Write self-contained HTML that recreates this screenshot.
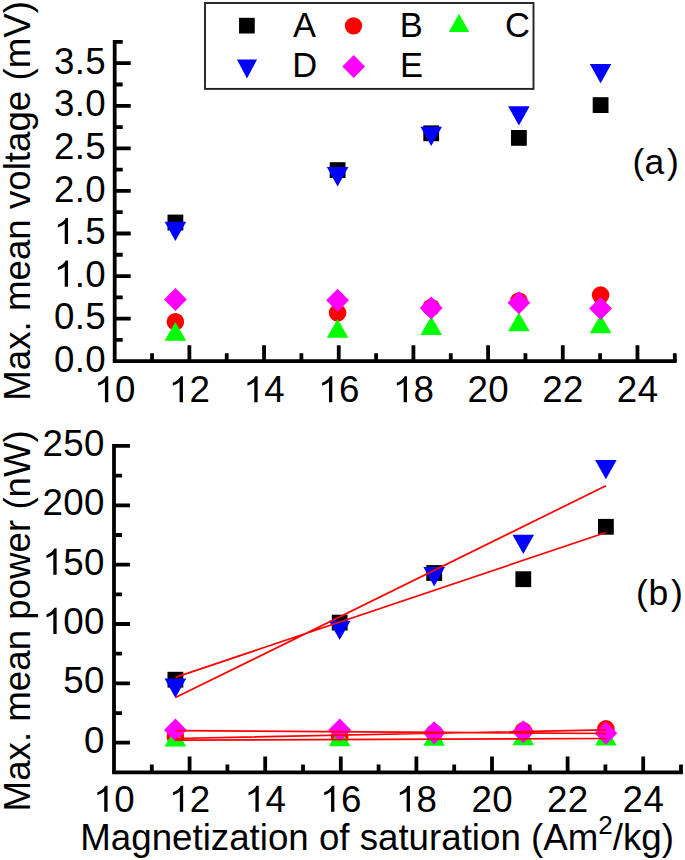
<!DOCTYPE html>
<html><head><meta charset="utf-8"><style>
html,body{margin:0;padding:0;background:#fff;}
svg{display:block;}
text{font-family:"Liberation Sans",sans-serif;fill:#000;}
</style></head><body>
<svg width="685" height="860" viewBox="0 0 685 860">
<rect width="685" height="860" fill="#fff"/>
<path d="M114.7 40.03V361.2" stroke="#000" stroke-width="3.8" fill="none"/>
<path d="M112.8 361.2H676.7" stroke="#000" stroke-width="3.8" fill="none"/>
<path d="M152.04 361.2v-8 M189.38 361.2v-16 M226.72 361.2v-8 M264.06 361.2v-16 M301.4 361.2v-8 M338.74 361.2v-16 M376.08 361.2v-8 M413.42 361.2v-16 M450.76 361.2v-8 M488.1 361.2v-16 M525.44 361.2v-8 M562.78 361.2v-16 M600.12 361.2v-8 M637.46 361.2v-16 M674.8 361.2v-8 M114.7 339.91h8 M114.7 318.63h16 M114.7 297.34h8 M114.7 276.06h16 M114.7 254.77h8 M114.7 233.49h16 M114.7 212.2h8 M114.7 190.92h16 M114.7 169.63h8 M114.7 148.35h16 M114.7 127.06h8 M114.7 105.78h16 M114.7 84.5h8 M114.7 63.21h16 M114.7 41.93h8" stroke="#000" stroke-width="3.8" fill="none"/>
<text x="94.09 114.9" y="402.3" style="font-size:36.7px"> 0</text>
<path transform="translate(94.09 402.3) scale(0.017920 -0.017920)" d="M790 0H605V1130C500 1030 340 960 223 930V1085C400 1150 580 1290 660 1460H790Z"/>
<text x="168.77 189.58" y="402.3" style="font-size:36.7px"> 2</text>
<path transform="translate(168.77 402.3) scale(0.017920 -0.017920)" d="M790 0H605V1130C500 1030 340 960 223 930V1085C400 1150 580 1290 660 1460H790Z"/>
<text x="243.45 264.26" y="402.3" style="font-size:36.7px"> 4</text>
<path transform="translate(243.45 402.3) scale(0.017920 -0.017920)" d="M790 0H605V1130C500 1030 340 960 223 930V1085C400 1150 580 1290 660 1460H790Z"/>
<text x="318.13 338.94" y="402.3" style="font-size:36.7px"> 6</text>
<path transform="translate(318.13 402.3) scale(0.017920 -0.017920)" d="M790 0H605V1130C500 1030 340 960 223 930V1085C400 1150 580 1290 660 1460H790Z"/>
<text x="392.81 413.62" y="402.3" style="font-size:36.7px"> 8</text>
<path transform="translate(392.81 402.3) scale(0.017920 -0.017920)" d="M790 0H605V1130C500 1030 340 960 223 930V1085C400 1150 580 1290 660 1460H790Z"/>
<text x="467.49 488.3" y="402.3" style="font-size:36.7px">20</text>
<text x="542.17 562.98" y="402.3" style="font-size:36.7px">22</text>
<text x="616.85 637.66" y="402.3" style="font-size:36.7px">24</text>
<text x="53.88 74.69 85.29" y="371.8" style="font-size:36.7px">0.0</text>
<text x="53.88 74.69 85.29" y="329.23" style="font-size:36.7px">0.5</text>
<text x="53.88 74.69 85.29" y="286.66" style="font-size:36.7px"> .0</text>
<path transform="translate(53.88 286.66) scale(0.017920 -0.017920)" d="M790 0H605V1130C500 1030 340 960 223 930V1085C400 1150 580 1290 660 1460H790Z"/>
<text x="53.88 74.69 85.29" y="244.09" style="font-size:36.7px"> .5</text>
<path transform="translate(53.88 244.09) scale(0.017920 -0.017920)" d="M790 0H605V1130C500 1030 340 960 223 930V1085C400 1150 580 1290 660 1460H790Z"/>
<text x="53.88 74.69 85.29" y="201.52" style="font-size:36.7px">2.0</text>
<text x="53.88 74.69 85.29" y="158.95" style="font-size:36.7px">2.5</text>
<text x="53.88 74.69 85.29" y="116.38" style="font-size:36.7px">3.0</text>
<text x="53.88 74.69 85.29" y="73.81" style="font-size:36.7px">3.5</text>
<path d="M114 444.05V772.38" stroke="#000" stroke-width="3.8" fill="none"/>
<path d="M112.1 772.38H682.9" stroke="#000" stroke-width="3.8" fill="none"/>
<path d="M151.8 772.38v-8 M189.6 772.38v-16 M227.4 772.38v-8 M265.2 772.38v-16 M303 772.38v-8 M340.8 772.38v-16 M378.6 772.38v-8 M416.4 772.38v-16 M454.2 772.38v-8 M492 772.38v-16 M529.8 772.38v-8 M567.6 772.38v-16 M605.4 772.38v-8 M643.2 772.38v-16 M681 772.38v-8 M114 742.7h16 M114 713.03h8 M114 683.35h16 M114 653.68h8 M114 624h16 M114 594.33h8 M114 564.65h16 M114 534.98h8 M114 505.3h16 M114 475.63h8 M114 445.95h16" stroke="#000" stroke-width="3.8" fill="none"/>
<text x="93.39 114.2" y="811.8" style="font-size:36.7px"> 0</text>
<path transform="translate(93.39 811.8) scale(0.017920 -0.017920)" d="M790 0H605V1130C500 1030 340 960 223 930V1085C400 1150 580 1290 660 1460H790Z"/>
<text x="168.99 189.8" y="811.8" style="font-size:36.7px"> 2</text>
<path transform="translate(168.99 811.8) scale(0.017920 -0.017920)" d="M790 0H605V1130C500 1030 340 960 223 930V1085C400 1150 580 1290 660 1460H790Z"/>
<text x="244.59 265.4" y="811.8" style="font-size:36.7px"> 4</text>
<path transform="translate(244.59 811.8) scale(0.017920 -0.017920)" d="M790 0H605V1130C500 1030 340 960 223 930V1085C400 1150 580 1290 660 1460H790Z"/>
<text x="320.19 341" y="811.8" style="font-size:36.7px"> 6</text>
<path transform="translate(320.19 811.8) scale(0.017920 -0.017920)" d="M790 0H605V1130C500 1030 340 960 223 930V1085C400 1150 580 1290 660 1460H790Z"/>
<text x="395.79 416.6" y="811.8" style="font-size:36.7px"> 8</text>
<path transform="translate(395.79 811.8) scale(0.017920 -0.017920)" d="M790 0H605V1130C500 1030 340 960 223 930V1085C400 1150 580 1290 660 1460H790Z"/>
<text x="471.39 492.2" y="811.8" style="font-size:36.7px">20</text>
<text x="546.99 567.8" y="811.8" style="font-size:36.7px">22</text>
<text x="622.59 643.4" y="811.8" style="font-size:36.7px">24</text>
<text x="84.09" y="752.7" style="font-size:36.7px">0</text>
<text x="63.28 84.09" y="693.35" style="font-size:36.7px">50</text>
<text x="42.47 63.28 84.09" y="634" style="font-size:36.7px"> 00</text>
<path transform="translate(42.47 634) scale(0.017920 -0.017920)" d="M790 0H605V1130C500 1030 340 960 223 930V1085C400 1150 580 1290 660 1460H790Z"/>
<text x="42.47 63.28 84.09" y="574.65" style="font-size:36.7px"> 50</text>
<path transform="translate(42.47 574.65) scale(0.017920 -0.017920)" d="M790 0H605V1130C500 1030 340 960 223 930V1085C400 1150 580 1290 660 1460H790Z"/>
<text x="42.47 63.28 84.09" y="515.3" style="font-size:36.7px">200</text>
<text x="42.47 63.28 84.09" y="455.95" style="font-size:36.7px">250</text>
<rect x="167.5" y="214.6" width="15.8" height="15.8" fill="#000"/>
<rect x="329.7" y="162.2" width="15.8" height="15.8" fill="#000"/>
<rect x="423.3" y="125.4" width="15.8" height="15.8" fill="#000"/>
<rect x="511" y="130" width="15.8" height="15.8" fill="#000"/>
<rect x="592.7" y="97.2" width="15.8" height="15.8" fill="#000"/>
<circle cx="175.4" cy="321.7" r="8.8" fill="#f00"/>
<circle cx="337.6" cy="312.9" r="8.8" fill="#f00"/>
<circle cx="431.2" cy="307.5" r="8.8" fill="#f00"/>
<circle cx="518.9" cy="301" r="8.8" fill="#f00"/>
<circle cx="600.6" cy="295.1" r="8.8" fill="#f00"/>
<path d="M175.4 321.9L186.2 340.7H164.6Z" fill="#0f0"/>
<path d="M337.6 319L348.4 337.8H326.8Z" fill="#0f0"/>
<path d="M431.2 316.2L442 335H420.4Z" fill="#0f0"/>
<path d="M518.9 312.5L529.7 331.3H508.1Z" fill="#0f0"/>
<path d="M600.6 314.5L611.4 333.3H589.8Z" fill="#0f0"/>
<path d="M164.6 221.7H186.2L175.4 241Z" fill="#00f"/>
<path d="M326.8 167.1H348.4L337.6 186.4Z" fill="#00f"/>
<path d="M420.4 126.8H442L431.2 146.1Z" fill="#00f"/>
<path d="M508.1 106.2H529.7L518.9 125.5Z" fill="#00f"/>
<path d="M589.8 64H611.4L600.6 83.3Z" fill="#00f"/>
<path d="M175.4 288.1L186.8 299.6L175.4 311.1L164 299.6Z" fill="#f0f"/>
<path d="M337.6 288.7L349 300.2L337.6 311.7L326.2 300.2Z" fill="#f0f"/>
<path d="M431.2 296.5L442.6 308L431.2 319.5L419.8 308Z" fill="#f0f"/>
<path d="M518.9 291.3L530.3 302.8L518.9 314.3L507.5 302.8Z" fill="#f0f"/>
<path d="M600.6 297L612 308.5L600.6 320L589.2 308.5Z" fill="#f0f"/>
<rect x="167.5" y="671.8" width="15.8" height="15.8" fill="#000"/>
<rect x="331.8" y="614.7" width="15.8" height="15.8" fill="#000"/>
<rect x="426.3" y="565.1" width="15.8" height="15.8" fill="#000"/>
<rect x="515.4" y="571.3" width="15.8" height="15.8" fill="#000"/>
<rect x="598" y="518.9" width="15.8" height="15.8" fill="#000"/>
<circle cx="175.4" cy="737" r="8.8" fill="#f00"/>
<circle cx="339.7" cy="737" r="8.8" fill="#f00"/>
<circle cx="434.2" cy="733" r="8.8" fill="#f00"/>
<circle cx="523.3" cy="730.9" r="8.8" fill="#f00"/>
<circle cx="605.9" cy="728.9" r="8.8" fill="#f00"/>
<path d="M175.4 727.7L186.2 746.5H164.6Z" fill="#0f0"/>
<path d="M339.7 727.5L350.5 746.3H328.9Z" fill="#0f0"/>
<path d="M434.2 726.9L445 745.7H423.4Z" fill="#0f0"/>
<path d="M523.3 726.5L534.1 745.3H512.5Z" fill="#0f0"/>
<path d="M605.9 726.6L616.7 745.4H595.1Z" fill="#0f0"/>
<path d="M164.6 678.6H186.2L175.4 697.9Z" fill="#00f"/>
<path d="M328.9 620.8H350.5L339.7 640.1Z" fill="#00f"/>
<path d="M423.4 567.1H445L434.2 586.4Z" fill="#00f"/>
<path d="M512.5 534.7H534.1L523.3 554Z" fill="#00f"/>
<path d="M595.1 459.9H616.7L605.9 479.2Z" fill="#00f"/>
<path d="M175.4 718.5L186.8 730L175.4 741.5L164 730Z" fill="#f0f"/>
<path d="M339.7 718.6L351.1 730.1L339.7 741.6L328.3 730.1Z" fill="#f0f"/>
<path d="M434.2 721.3L445.6 732.8L434.2 744.3L422.8 732.8Z" fill="#f0f"/>
<path d="M523.3 720.2L534.7 731.7L523.3 743.2L511.9 731.7Z" fill="#f0f"/>
<path d="M605.9 721.7L617.3 733.2L605.9 744.7L594.5 733.2Z" fill="#f0f"/>
<path d="M175.4 677.4L605.9 532.5 M175.4 697.6L605.9 485.8 M175.4 730.6L605.9 733.5 M175.4 738.5L605.9 729.8 M175.4 740.2L605.9 738.5" stroke="#f00" stroke-width="1.7" fill="none"/>
<text x="632.5 644.6 667.1" y="174.4" style="font-size:35.5px">(a)</text>
<text x="635.9 648.4 670.9" y="604.6" style="font-size:35.5px">(b)</text>
<text transform="translate(30 397.7) rotate(-90)" x="-3.01" y="0" style="font-size:36.7px">Max. mean voltage (mV)</text>
<text transform="translate(30 808.4) rotate(-90)" x="-3.01" y="0" style="font-size:36.7px">Max. mean power (nW)</text>
<text x="80.29" y="850" style="font-size:36.7px">Magnetization of saturation (Am<tspan dy="-15.7" style="font-size:26px">2</tspan><tspan dy="15.7">/kg)</tspan></text>
<rect x="205" y="3" width="328.5" height="85.9" fill="#fff" stroke="#222" stroke-width="1.9"/>
<rect x="239.05" y="17.8" width="15.7" height="15.7" fill="#000"/>
<circle cx="353.5" cy="25.8" r="8.65" fill="#f00"/>
<path d="M459 13.8L469.2 32H448.8Z" fill="#0f0"/>
<path d="M236.95 59.6H257.05L247 78.4Z" fill="#00f"/>
<path d="M353.7 54.9L365.05 66.4L353.7 77.9L342.35 66.4Z" fill="#f0f"/>
<text x="293" y="36.6" style="font-size:34.5px">A</text>
<text x="399.7" y="36.6" style="font-size:34.5px">B</text>
<text x="505" y="36.6" style="font-size:34.5px">C</text>
<text x="292.3" y="76.9" style="font-size:34.5px">D</text>
<text x="400" y="76.9" style="font-size:34.5px">E</text>
</svg>
</body></html>
